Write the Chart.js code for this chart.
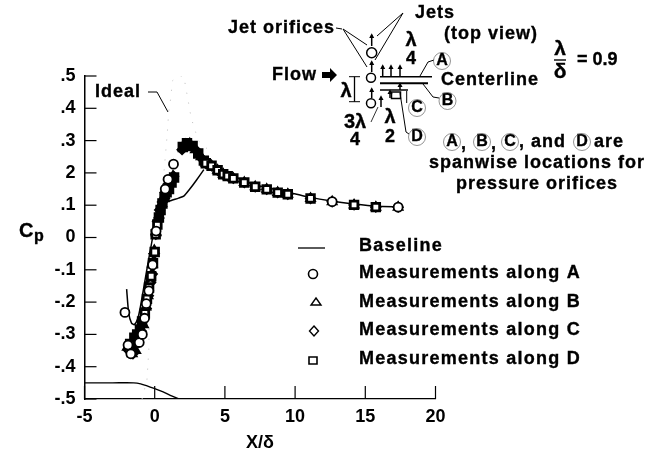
<!DOCTYPE html>
<html><head><meta charset="utf-8">
<style>html,body{margin:0;padding:0;background:#fff}#w{width:665px;height:454px;position:relative}</style>
<script src="https://cdn.jsdelivr.net/npm/chart.js@4"></script>
</head><body><div id="w"><canvas id="c" width="665" height="454"></canvas></div>
<script>
const yTickValues=[.5,.4,.3,.2,.1,0,-.1,-.2,-.3,-.4,-.5];
const yTickLabels=['.5','.4','.3','2','.1','0','-.1','-.2','-.3','-.4','-.5'];
const xTickValues=[-5,0,5,10,15,20];
const xTickLabels=['-5','0','5','10','15','20'];
const legendLabels=['Baseline','Measurements along A','Measurements along B','Measurements along C','Measurements along D'];

const baselineX=[-2,-1.85,-1.65,-1.45,-1.2,-1,-.7,-.4,-.15,-.05,.2,.55,.8,1.0,1.26,1.7,2.07,2.5,2.93,3.5,3.5,3.7,4.5,5.6,7,8,9.5,11,12.6,14.2,15.8,17.4];
const baselineY=[-.16,-.235,-.265,-.27,-.25,-.21,-.135,-.06,0,.04,.075,.11,.112,.112,.116,.122,.128,.15,.175,.21,null,.232,.21,.19,.165,.155,.14,.125,.113,.104,.097,.095];
const surfaceX=[-5,-3,-1.5,-1,-.5,0,.6,1.2,1.72];
const surfaceY=[-.45,-.45,-.45,-.453,-.46,-.468,-.478,-.49,-.5];
const idealX=[-.9,-.55,-.42,-.4,-.3,-.1,.2,.5,.9,1.0,1.14,1.26,1.7,2.07,2.6,3.1,3.85];
const idealY=[-.5,-.44,-.35,-.27,-.22,-.14,-.02,.12,.325,.39,.43,.485,.5,.5,.37,.3,.27];

const aX=[-2.12,-1.9,-1.7,-1.1,-.88,-.72,-.6,-.42,-.15,.1,.75,.95,1.34,12.64,17.34];
const aY=[-.232,-.333,-.36,-.325,-.3,-.25,-.205,-.165,-.085,.02,.15,.18,.227,.111,.094];
const bX=[-1.95,-1.6,-1.35,-1.05,-.8,-.62,-.48,-.3,-.17,-.03,.1,.3,.5,.7,.9,1.1,1.3,2.1,2.5,2.9,3.3,3.64,4.05,4.48,4.88,5.6,6.38,7.16,7.98,8.76,9.48,11.1,12.64,14.2,15.75,17.34];
const bY=[-.34,-.36,-.35,-.3,-.27,-.215,-.18,-.13,-.082,-.04,.015,.07,.105,.13,.155,.175,.19,.285,.29,.272,.25,.23,.222,.208,.196,.183,.17,.157,.149,.139,.134,.121,.111,.101,.094,.094];
const cX=[-1.85,-1.55,-1.3,-1.15,-.95,-.78,-.6,-.45,-.3,-.17,-.05,.08,.2,.35,.55,.75,.95,1.15,1.35,1.95,2.2,2.6,3.0,3.4,3.64,4.05,4.48,4.88,5.6,6.38,7.16,7.98,8.76,9.48,11.1,12.64,14.2,15.75,17.34];
const cY=[-.35,-.36,-.33,-.31,-.29,-.25,-.22,-.18,-.14,-.113,-.05,.01,.05,.085,.11,.14,.165,.18,.19,.272,.29,.285,.268,.242,.23,.222,.208,.196,.183,.17,.157,.149,.139,.134,.121,.111,.101,.094,.094];
const dX=[-1.75,-1.45,-1.25,-1.05,-.9,-.7,-.55,-.4,-.25,-.12,0,.07,.19,.3,.42,.55,.7,.85,1.02,1.2,1.38,2.0,2.3,2.7,3.1,3.5,3.64,4.05,4.48,4.88,5.2,5.6,6.38,7.16,7.98,8.76,9.48,11.1,14.2,15.75];
const dY=[-.33,-.31,-.3,-.285,-.26,-.235,-.19,-.155,-.12,-.08,-.045,.01,.04,.062,.085,.105,.125,.14,.15,.17,.186,.28,.292,.283,.26,.238,.23,.222,.208,.196,.19,.183,.17,.157,.149,.139,.134,.121,.101,.094];

const zip=(xs,ys)=>xs.map((x,i)=>({x,y:ys[i]}));
const F='"Liberation Sans"';
const font=(s)=>`bold ${s}px ${F}`;

function line(g,pts,w){g.lineWidth=w||1;g.beginPath();pts.forEach((p,i)=>i?g.lineTo(p[0],p[1]):g.moveTo(p[0],p[1]));g.stroke();}
function txt(g,s,x,y,size,al,sp){g.font=font(size||18);g.letterSpacing=(sp===undefined?1:sp)+'px';g.textAlign=al||'left';g.textBaseline='middle';g.lineWidth=.35;g.strokeText(s,x,y);g.fillText(s,x,y);g.letterSpacing='0px';}
function arrow(g,x,y0,y1,w){line(g,[[x,y0],[x,y1]],w||1.5);const d=y1<y0?3:-3;g.beginPath();g.moveTo(x,y1-d*.6);g.lineTo(x-2.5,y1+d);g.lineTo(x+2.5,y1+d);g.closePath();g.fill();}
function ring(g,x,y,r,w){g.lineWidth=w||1.5;g.beginPath();g.arc(x,y,r,0,Math.PI*2);g.stroke();}
function circled(g,s,x,y){txt(g,s,x,y,16,'center',0);g.lineWidth=.7;g.strokeStyle='#666';g.beginPath();g.arc(x,y,8.5,0,Math.PI*2);g.stroke();g.strokeStyle='#000';}

const bg={id:'bg',beforeDraw(ch){const g=ch.ctx;g.save();g.fillStyle='#fff';g.fillRect(0,0,ch.width,ch.height);g.restore();}};
const ticksIn={id:'ticksIn',afterDatasetsDraw(ch){const g=ch.ctx,xs=ch.scales.x,ys=ch.scales.y;g.save();g.strokeStyle='#000';
 yTickValues.forEach(v=>{const p=ys.getPixelForValue(v);line(g,[[xs.left,p],[xs.left+12,p]],1.2);});
 xTickValues.forEach(v=>{const p=xs.getPixelForValue(v);line(g,[[p,ys.bottom],[p,ys.bottom-13]],1.2);});
 g.restore();}};
const notes={id:'notes',afterDraw(ch){const g=ch.ctx;g.save();g.fillStyle='#000';g.strokeStyle='#000';
 txt(g,'C',19,231,20,'left',0);txt(g,'p',34,237,16,'left',0);
 txt(g,'Ideal',95,92);line(g,[[148,92],[157,92],[168,112]],1);
 const ly=[246,273,302,330,359];
 legendLabels.forEach((s,i)=>txt(g,s,359,ly[i],18,'left',1.25));
 line(g,[[298,248],[325,248]],1.3);
 ring(g,313,274,4.5,1.6);
 g.lineWidth=1.4;g.beginPath();g.moveTo(316,298);g.lineTo(321,305);g.lineTo(311,305);g.closePath();g.stroke();
 g.beginPath();g.moveTo(314,326);g.lineTo(318.5,331);g.lineTo(314,336);g.lineTo(309.5,331);g.closePath();g.stroke();
 g.lineWidth=1.6;g.beginPath();g.rect(309,357,8,7);g.stroke();
 txt(g,'Jet orifices',228,28);line(g,[[336,28],[342,29]],1);
 txt(g,'Jets',415,13);txt(g,'(top view)',444,34);
 txt(g,'Flow',272,75);
 g.beginPath();g.moveTo(322,72);g.lineTo(330,72);g.lineTo(330,68);g.lineTo(337,75);g.lineTo(330,82);g.lineTo(330,78);g.lineTo(322,78);g.closePath();g.fill();
 txt(g,'Centerline',441,80);
 txt(g,'\u03bb',411,40,20,'center',0);txt(g,'4',411,59,18,'center',0);
 txt(g,'\u03bb',346,91,20,'center',0);
 txt(g,'3\u03bb',355,122,20,'center',0);txt(g,'4',355,140,18,'center',0);
 txt(g,'\u03bb',390,117,20,'center',0);txt(g,'2',390,137,18,'center',0);
 txt(g,'\u03bb',560,49,21,'center',0);line(g,[[554,60],[566,60]],1.4);txt(g,'\u03b4',560,72,21,'center',0);txt(g,'= 0.9',577,60,18,'left',0);
 ring(g,371.7,52.7,5);ring(g,371,77.7,4.5);ring(g,371,103.3,4.5);
 arrow(g,371.7,46,35);arrow(g,371.7,72,62);arrow(g,371.7,98,89);arrow(g,381,107,97);
 line(g,[[343,29],[367,45]],1);line(g,[[343,29],[367,67]],1);
 line(g,[[403,13],[377,36]],1);line(g,[[403,13],[375,60]],1);
 line(g,[[380,76.7],[432,76.7]],1.5);line(g,[[380,83.3],[428,83.3]],2);line(g,[[380,90],[408,90]],1.5);
 g.lineWidth=1.5;g.strokeRect(391.5,92,9,6.5);
 [382.7,391,400].forEach(x=>arrow(g,x,76,66));
 arrow(g,390,98,91);arrow(g,400,90,84);
 line(g,[[349,76.7],[360,76.7]],1);line(g,[[349,101.7],[360,101.7]],1);line(g,[[354.5,76.7],[354.5,101.7]],1.3);
 line(g,[[420,76],[428,62],[434,60]],1);line(g,[[423,84],[433,97],[439,98]],1);
 line(g,[[406.7,91],[406.7,103]],1);line(g,[[400,93],[406,132],[409,134]],1);
 line(g,[[371,122],[378,107]],.8);
 circled(g,'A',442,61);circled(g,'B',447.5,101);circled(g,'C',417,108);circled(g,'D',417,137);
 circled(g,'A',452,142);txt(g,',',461,144);circled(g,'B',482,142);txt(g,',',491,144);circled(g,'C',510,142);txt(g,', and',519,142);circled(g,'D',582,142);txt(g,'are',594,142);
 txt(g,'spanwise locations for',537,163,18,'center');
 txt(g,'pressure orifices',537,184,18,'center');
 g.restore();}};

const blackOrWhite=(ctx)=>{const x=ctx.raw&&ctx.raw.x;return (x>=1.8&&x<=3.55)||(x>=.2&&x<=1.4)||(x>=-1.55&&x<=-.85)?'#000':'#fff';};
const markerBase={showLine:false,pointBackgroundColor:blackOrWhite,pointBorderColor:'#000',pointBorderWidth:2.8,pointRadius:4};
new Chart(document.getElementById('c'),{
 type:'scatter',
 data:{datasets:[
  {label:'Ideal',data:zip(idealX,idealY),showLine:true,borderColor:'#bbb',borderWidth:1,borderDash:[1,9],pointRadius:0,order:9},
  {label:'Surface',data:zip(surfaceX,surfaceY),showLine:true,borderColor:'#000',borderWidth:1.4,pointRadius:0,tension:.3,order:8},
  {label:legendLabels[0],data:zip(baselineX,baselineY),showLine:true,spanGaps:false,borderColor:'#000',borderWidth:1.5,pointRadius:0,tension:.2,order:7},
  {label:legendLabels[1],data:zip(aX,aY),pointStyle:'circle',...markerBase,pointBackgroundColor:'#fff',pointBorderWidth:1.8,pointRadius:4.5,order:1},
  {label:legendLabels[2],data:zip(bX,bY),pointStyle:'triangle',...markerBase,pointRadius:4.2,order:4},
  {label:legendLabels[3],data:zip(cX,cY),pointStyle:'rectRot',...markerBase,order:3},
  {label:legendLabels[4],data:zip(dX,dY),pointStyle:'rect',...markerBase,pointRadius:5.4,order:2}
 ]},
 options:{responsive:false,animation:false,
  layout:{padding:{left:0,top:76,right:229.5,bottom:0}},
  plugins:{legend:{display:false},tooltip:{enabled:false}},
  scales:{
   x:{type:'linear',min:-5,max:20,
    afterBuildTicks(s){s.ticks=xTickValues.map(value=>({value}));},
    afterFit(s){s.height=55;},
    grid:{drawOnChartArea:false,drawTicks:false},
    border:{color:'#000',width:1.3,dash:[16,2,6,2]},
    ticks:{color:'#000',padding:7,maxRotation:0,autoSkip:false,font:{family:F,weight:'bold',size:18},callback:(v)=>xTickLabels[xTickValues.indexOf(v)]},
    title:{display:true,text:'X/\u03b4',color:'#000',font:{family:F,weight:'bold',size:18},padding:{top:7,bottom:0}}},
   y:{type:'linear',min:-.5,max:.5,
    afterBuildTicks(s){s.ticks=yTickValues.map(value=>({value}));},
    afterFit(s){s.width=84.5;},
    grid:{drawOnChartArea:false,drawTicks:false},
    border:{color:'#000',width:1.5},
    ticks:{color:'#000',padding:9,autoSkip:false,font:{family:F,weight:'bold',size:18},callback:(v)=>yTickLabels[yTickValues.findIndex(t=>Math.abs(t-v)<1e-6)]}}
  }},
 plugins:[bg,ticksIn,notes]
});
</script></body></html>
